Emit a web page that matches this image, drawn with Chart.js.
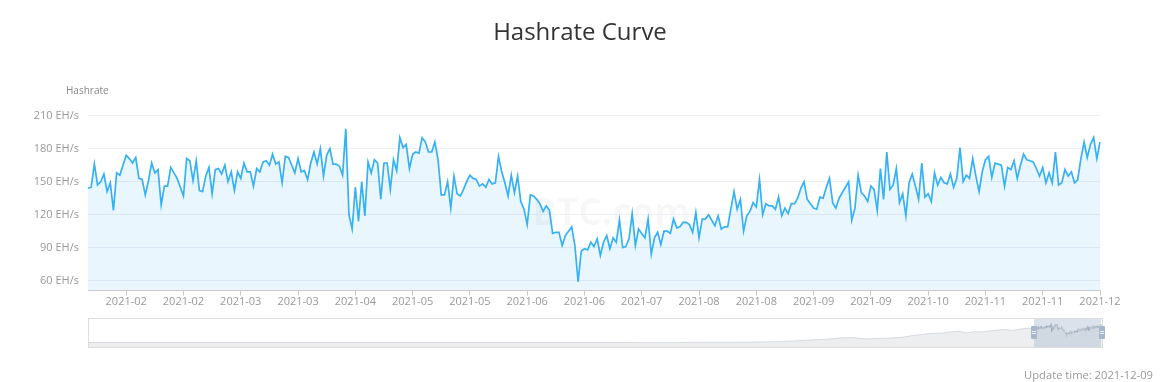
<!DOCTYPE html>
<html>
<head>
<meta charset="utf-8">
<script src="https://cdn.jsdelivr.net/npm/chart.js@4.4.1/dist/chart.umd.min.js"></script>
<style>
html,body{margin:0;padding:0;background:#fff;}
#wrap{position:relative;width:1160px;height:382px;overflow:hidden;font-family:"Open Sans",sans-serif;background:#fff;}
#title{position:absolute;left:0;width:1160px;top:14px;text-align:center;font-size:24px;color:#333;line-height:34px;}
#yname{position:absolute;left:66px;top:83px;font-size:10px;color:#888;line-height:14px;}
#wm{position:absolute;left:532px;top:186px;font-size:37px;font-weight:700;color:rgba(0,0,0,0.035);line-height:50px;}
#main{position:absolute;left:0;top:0;}
#sliderBox{position:absolute;left:88px;top:318px;width:1013px;height:28px;border:1px solid #ddd;}
#mini{position:absolute;left:89px;top:319px;}
#sel{position:absolute;left:1034px;top:319px;width:67px;height:28px;background:rgba(167,183,204,0.4);}
.handle{position:absolute;top:326px;width:6px;height:13px;background:#a7b7cc;border-radius:1px;}
.handle i{position:absolute;left:1px;width:4px;height:1px;background:#e8edf3;}
#update{position:absolute;right:7px;top:367px;font-size:11.2px;color:#999;line-height:16px;}
</style>
</head>
<body>
<div id="wrap">
  <div id="wm">BTC.com</div>
  <canvas id="main" width="1160" height="312"></canvas>
  <div id="title">Hashrate Curve</div>
  <div id="yname">Hashrate</div>
  <div id="sliderBox"></div>
  <canvas id="mini" width="1013" height="28"></canvas>
  <div id="sel"></div>
  <div class="handle" style="left:1031px"><i style="top:5px"></i><i style="top:7px"></i></div>
  <div class="handle" style="left:1099px"><i style="top:5px"></i><i style="top:7px"></i></div>
  <div id="update">Update time: 2021-12-09</div>
</div>
<script>
// ---- data ----
const startDay = '2021-01-24';
const hashrate = [
144,145,166,147,150,157,141,149,124,158,156,165,174,171,167,172,153,152,138,151,
167,158,161,129,146,146,163,158,153,145,137,171,169,151,169,142,141,155,163,139,
161,162,157,165,150,159,142,159,153,167,159,159,146,162,159,168,169,165,175,166,
168,149,173,172,165,158,171,159,160,152,167,177,166,180,155,174,180,166,166,164,
156,198,120,107,145,114,150,119,168,158,170,167,134,167,167,143,170,160,190,181,
184,162,175,177,176,190,186,177,177,186,170,138,138,150,126,155,139,137,143,150,
156,153,152,146,148,145,152,148,149,173,159,149,137,156,140,155,132,125,111,138,
137,134,130,123,128,124,103,104,104,92,101,105,109,92,59,87,89,88,95,91,
98,83,95,101,89,99,95,115,90,91,98,121,92,107,103,99,116,84,99,104,
93,105,105,103,116,108,109,113,113,111,104,122,99,116,116,120,115,110,119,107,
109,109,125,141,125,134,105,119,123,131,127,152,120,130,128,128,125,136,119,126,
121,130,130,135,144,150,134,130,126,125,136,135,145,153,131,126,135,140,145,150,
115,126,156,140,137,132,146,143,124,162,134,177,143,147,162,131,139,119,149,157,
146,134,167,136,139,132,158,147,154,149,148,157,145,153,181,150,156,153,171,155,
141,159,170,173,154,167,166,165,146,163,161,169,153,165,175,170,169,168,162,155,
163,149,158,149,177,147,149,161,155,159,149,152,171,186,172,184,190,171,186
];
const tickIndex = [12,30,48,66,84,102,120,138,156,174,192,210,228,246,264,282,300,318];
const tickLabels = ['2021-02','2021-02','2021-03','2021-03','2021-04','2021-05','2021-05','2021-06','2021-06',
                    '2021-07','2021-08','2021-08','2021-09','2021-09','2021-10','2021-11','2021-11','2021-12'];
const yTicks = [60,90,120,150,180,210];
// full-history overview for the zoom slider (year, EH/s)
const histYears = [2009.0,2010.0,2011.0,2012.0,2013.0,2013.5,2014.0,2014.5,2015.0,2015.5,2016.0,2016.5,
  2017.0,2017.25,2017.5,2017.75,2018.0,2018.15,2018.3,2018.45,2018.6,2018.75,2018.85,2018.95,
  2019.1,2019.25,2019.4,2019.5,2019.6,2019.7,2019.8,2019.9,2020.0,2020.1,2020.2,2020.3,2020.4,
  2020.5,2020.6,2020.7,2020.8,2020.9,2021.0];
const histValues = [0,0,0.01,0.02,0.03,0.2,0.3,0.4,0.4,0.4,0.8,1.5,
  2.5,3.5,6,9,17,24,30,36,48,52,42,38,
  44,47,56,70,80,90,95,98,110,118,100,112,110,
  120,128,134,125,140,150];

// ---- categories ----
const t0 = Date.parse(startDay + 'T00:00:00Z');
const dates = hashrate.map((_, i) => new Date(t0 + i * 86400000).toISOString().slice(0, 10));

// ---- main chart ----
const FONT = 'Open Sans';
new Chart(document.getElementById('main'), {
  type: 'line',
  data: {
    labels: dates,
    datasets: [{
      data: hashrate,
      borderColor: '#36b1f3',
      borderWidth: 1.7,
      backgroundColor: 'rgba(54,177,243,0.11)',
      fill: 'start',
      pointRadius: 0,
      tension: 0
    }]
  },
  options: {
    responsive: false,
    animation: false,
    events: [],
    layout: { padding: { left: 0, right: 60, top: 115.7, bottom: 0 } },
    plugins: { legend: { display: false }, tooltip: { enabled: false }, title: { display: false } },
    scales: {
      x: {
        type: 'category',
        offset: false,
        grid: { display: true, drawOnChartArea: false, drawTicks: true, tickLength: 5, color: '#ccc' },
        border: { display: true, color: '#ccc' },
        ticks: {
          autoSkip: false, maxRotation: 0, minRotation: 0, padding: 0,
          color: '#999', font: { size: 11, family: FONT },
          callback: (v, i) => tickLabels[i]
        },
        afterBuildTicks: s => { s.ticks = tickIndex.map(v => ({ value: v })); },
        afterFit: s => { s.height = 312 - 290.6; }
      },
      y: {
        min: 51, max: 210,
        grid: { color: '#eceff3', drawTicks: false },
        border: { display: false },
        ticks: { padding: 9, color: '#999', font: { size: 11, family: FONT }, callback: v => v + ' EH/s' },
        afterBuildTicks: s => { s.ticks = yTicks.map(v => ({ value: v })); },
        afterFit: s => { s.width = 88; }
      }
    }
  }
});

// ---- slider overview ----
const miniPts = histYears.map((x, i) => ({ x: x, y: histValues[i] }))
  .concat(hashrate.map((v, i) => ({ x: 2021 + (23 + i) / 365, y: v })));
new Chart(document.getElementById('mini'), {
  type: 'line',
  data: {
    datasets: [{
      data: miniPts,
      borderColor: 'rgba(47,69,84,0.3)',
      borderWidth: 0.5,
      backgroundColor: 'rgba(47,69,84,0.09)',
      fill: 'start',
      pointRadius: 0,
      tension: 0
    }]
  },
  options: {
    responsive: false,
    animation: false,
    events: [],
    layout: { padding: 0 },
    plugins: { legend: { display: false }, tooltip: { enabled: false } },
    scales: {
      x: { type: 'linear', min: 2009.0, max: 2021.935, display: false },
      y: { min: -46, max: 242, display: false }
    }
  }
});
</script>
</body>
</html>
